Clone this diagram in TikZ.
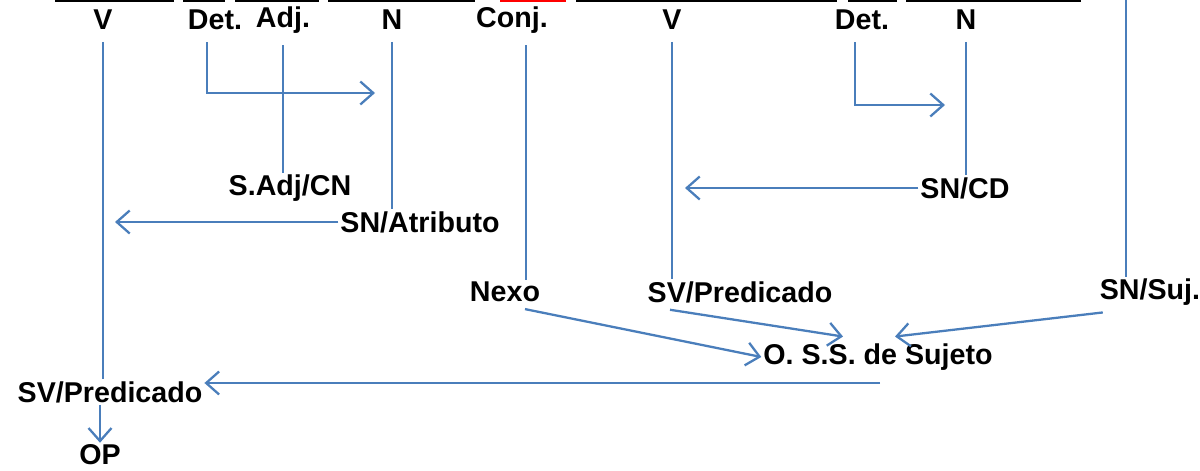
\documentclass[tikz,border=0pt]{standalone}
\usepackage{fontspec}
\setmainfont{Liberation Sans}
\definecolor{lineblue}{RGB}{74,126,187}
\usetikzlibrary{arrows.meta}
\begin{document}
\begin{tikzpicture}[x=0.02cm, y=-0.02cm]

      \tikzset{word/.style={inner sep=1pt, font=\fontsize{16.3}{19}\selectfont\bfseries},
               link/.style={draw=lineblue, line width=1.3pt},
               arr/.style={link, -{Straight Barb[length=2.6mm, width=4.6mm, line width=1.3pt]}}}
      \useasboundingbox (0,0) rectangle (1200,470);
%% Cut-off line above
      	\draw[line width=1.6pt] (55,0.5) -- (174,0.5) (183,0.5) -- (225,0.5) (235,0.5) -- (319,0.5)
      	      (328,0.5) -- (475,0.5) (576,0.5) -- (837,0.5) (848,0.5) -- (897,0.5) (906,0.5) -- (1081,0.5);
      	\draw[red, line width=2pt] (500,0.5) -- (566,0.5);
%% Words
      	\node[word] (v1) at (103,20) {V};
      	\node[word] (det1) at (215,20) {Det.};
      	\node[word] (adj) at (283,20) {Adj.};
      	\node[word] (n1) at (392,20) {N};
      	\node[word] (conj) at (512,20) {Conj.};
      	\node[word] (v2) at (672,20) {V};
      	\node[word] (det2) at (862,20) {Det.};
      	\node[word] (n2) at (966,20) {N};
%% Phrases
      	\node[word] (sadj) at (290,188) {S.Adj/CN};
      	\node[word] (snatr) at (420,222) {SN/Atributo};
      	\node[word] (sncd) at (965,188) {SN/CD};
      	\node[word] (nexo) at (505,292) {Nexo};
      	\node[word] (svpB) at (740,292) {SV/Predicado};
      	\node[word] (snsuj) at (1150,292) {SN/Suj.};
      	\node[word] (oss) at (878,357) {O. S.S. de Sujeto};
      	\node[word] (svpA) at (110,392) {SV/Predicado};
      	\node[word] (op) at (100,455) {OP};
%% Free ends
      	\coordinate (dt1) at ([xshift=-0.16cm, yshift=-0.2cm]det1.south);
      	\coordinate (cj) at ([xshift=0.28cm, yshift=-0.2cm]conj.south);
      	\coordinate (dt2) at ([xshift=-0.14cm, yshift=-0.2cm]det2.south);
      	\coordinate (sjtop) at (1126,0);
      	\coordinate (dtip1) at (375,93);
      	\coordinate (dtip2) at (945,105);
      	\coordinate (atrtip) at (115,218);
      	\coordinate (cdtip) at (685,188);
      	\coordinate (ossend) at (880,383);
%Edges
		\draw[link] ([yshift=-0.2cm]v1.south) -- (v1.south |- svpA.north);
		\draw[arr] (dt1) |- (dtip1);
		\draw[link] ([yshift=-0.2cm]adj.south) -- (adj.south |- sadj.north);
		\draw[link] ([yshift=-0.2cm]n1.south) -- (n1.south |- snatr.north);
		\draw[arr] (snatr.west) -- (snatr.west -| atrtip);
		\draw[link] (cj) -- (cj |- nexo.north);
		\draw[link] ([yshift=-0.2cm]v2.south) -- (v2.south |- svpB.north);
		\draw[arr] (dt2) |- (dtip2);
		\draw[link] ([yshift=-0.2cm]n2.south) -- (n2.south |- sncd.north);
		\draw[arr] (sncd.west) -- (sncd.west -| cdtip);
		\draw[link] (sjtop) -- (sjtop |- snsuj.north);
		\draw[arr] ([xshift=0.4cm, yshift=-0.1cm]nexo.south) -- (oss.west);
		\draw[arr] ([xshift=-1.4cm, yshift=-0.1cm]svpB.south) -- ([xshift=-0.7cm, yshift=0.1cm]oss.north);
		\draw[arr] ([xshift=0.1cm, yshift=-0.1cm]snsuj.south west) -- ([xshift=0.34cm, yshift=0.1cm]oss.north);
		\draw[arr] (ossend) -- (ossend -| svpA.east);
		\draw[arr] (op.north |- svpA.south) -- (op.north);

	\end{tikzpicture}
\end{document}
